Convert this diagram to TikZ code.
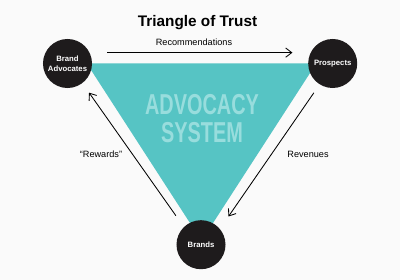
\documentclass[tikz,border=0pt]{standalone}
\usepackage{fontspec}
\setmainfont{Liberation Sans}
\usetikzlibrary{arrows.meta}

\definecolor{trustteal}{RGB}{86,196,196}
\definecolor{systemtext}{RGB}{152,221,221}
\definecolor{circleblack}{RGB}{30,27,28}
\definecolor{paper}{RGB}{250,250,250}

\begin{document}
\begin{tikzpicture}[
    x=0.025cm, y=-0.025cm,
    party/.style={circle, fill=circleblack, text=white, inner sep=0pt, minimum size=1.225cm, align=center, font=\fontsize{5.5}{6.9}\selectfont\bfseries},
    flow/.style={draw=black, line width=0.6pt, -{Straight Barb[length=1.5mm, width=2.3mm]}},
    flowlabel/.style={anchor=base, inner sep=0pt, font=\fontsize{6.5}{8}\selectfont}
]

% Background and bounds
\fill[paper] (0,0) rectangle (400,280);
\useasboundingbox (0,0) rectangle (400,280);

% Title
\node[anchor=base, inner sep=0pt, font=\fontsize{10.9}{13}\selectfont\bfseries] (title) at (197.5,26.7) {Triangle of Trust};

% Advocacy triangle
\fill[trustteal] (86.8,63.5) -- (316.2,63.5) -- (201.5,240.8) -- cycle;
\node[inner sep=0pt, align=center, text=systemtext, font=\fontsize{20.5}{20}\selectfont\bfseries] (system) at (202,118.8) {\scalebox{0.69}[1]{ADVOCACY}\\\scalebox{0.69}[1]{SYSTEM}};

% Parties
\node[party] (advocates) at (67.5,63.5) {Brand\\Advocates};
\node[party] (prospects) at (332.7,63.5) {Prospects};
\node[party] (brands) at (201,244.7) {Brands};

% Flows
\draw[flow, shorten <=0.4375cm, shorten >=0.45cm] (advocates.26) -- (prospects.154);
\draw[flow, shorten <=0.25cm, shorten >=0.373cm] (prospects.238) -- (brands.40);
\draw[flow, shorten <=0.342cm, shorten >=0.286cm] (brands.134) -- (advocates.307);

% Flow labels
\node[flowlabel] (recommendations) at (194,46) {Recommendations};
\node[flowlabel] (revenues) at (308,157.7) {Revenues};
\node[flowlabel] (rewards) at (101,157.7) {“Rewards”};
\end{tikzpicture}
\end{document}
